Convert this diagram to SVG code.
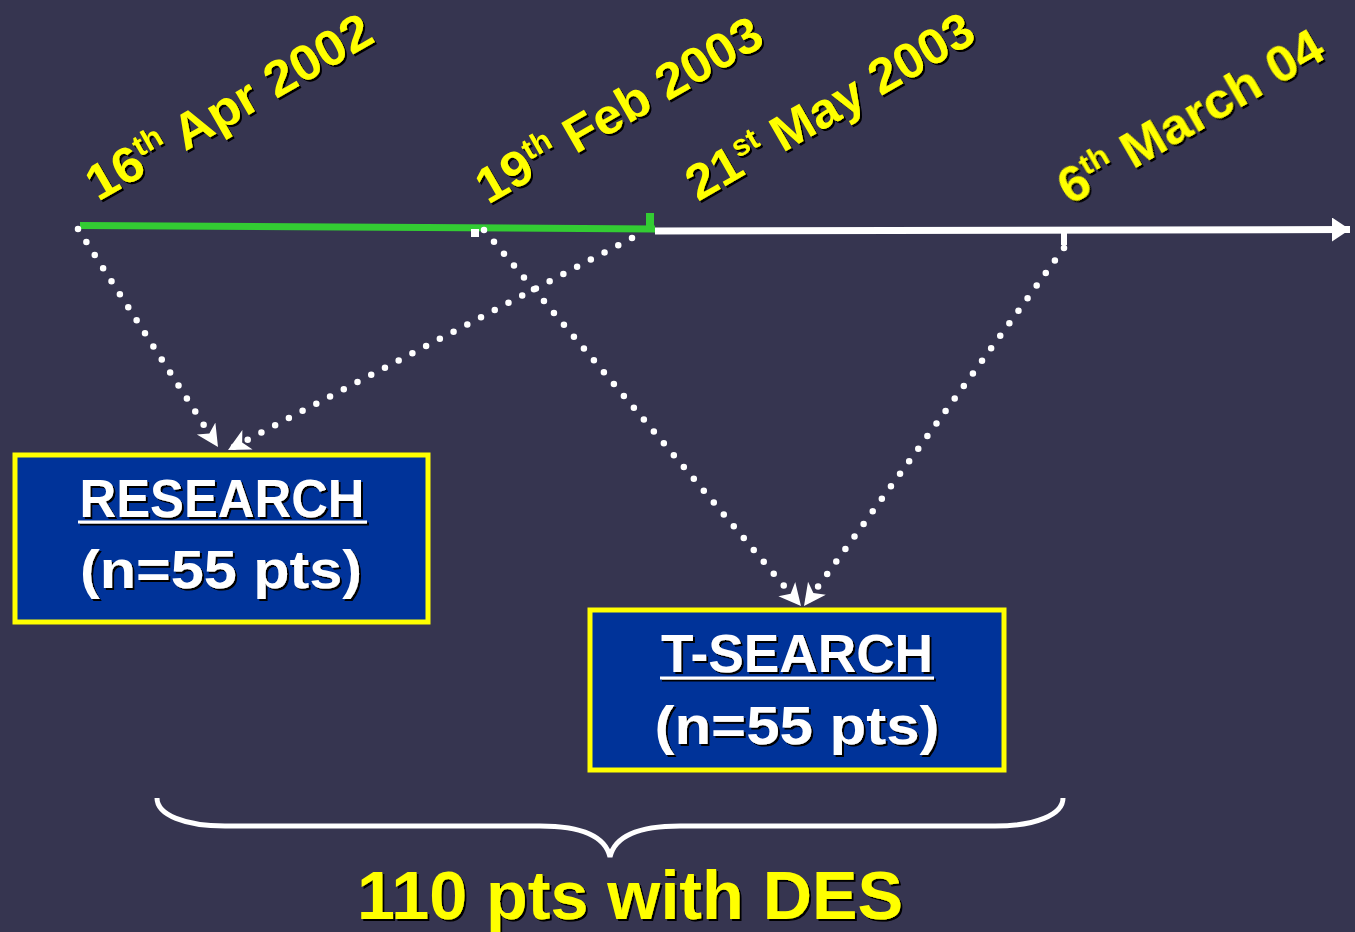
<svg xmlns="http://www.w3.org/2000/svg" width="1355" height="932" viewBox="0 0 1355 932">
<style>
.date{font-family:"Liberation Sans",Arial,sans-serif;font-weight:bold;font-size:50px;fill:#FFFF00}
.sup{font-size:30px}
.box{fill:#003399;stroke:#FFFF00;stroke-width:5}
.lbl{font-family:"Liberation Sans",Arial,sans-serif;font-weight:bold;fill:#FFFFFF;text-anchor:middle}
.dot{fill:none;stroke:#FFFFFF;stroke-width:6.5;stroke-linecap:round;stroke-dasharray:0 15.5}
.ul{stroke:#FFFFFF;stroke-width:3}
</style>
<defs>
<filter id="sh" x="-10%" y="-10%" width="130%" height="130%">
<feDropShadow dx="2" dy="2" stdDeviation="0.3" flood-color="#000000" flood-opacity="1"/>
</filter>
<marker id="ah" markerUnits="userSpaceOnUse" markerWidth="30" markerHeight="30" refX="22" refY="11" orient="auto">
<path d="M0,0 L22,11 L0,22 L6,11 Z" fill="#FFFFFF"/>
</marker>
<marker id="big" markerUnits="userSpaceOnUse" markerWidth="30" markerHeight="30" refX="18" refY="12" orient="auto">
<path d="M0,0 L18,12 L0,24 Z" fill="#FFFFFF"/>
</marker>
</defs>
<rect width="1355" height="932" fill="#363550"/>

<g id="timeline">
<line x1="80" y1="225.5" x2="655" y2="229" stroke="#33CC33" stroke-width="7"/>
<line x1="650" y1="213" x2="650" y2="229" stroke="#33CC33" stroke-width="8"/>
<line x1="655" y1="231" x2="1350" y2="229.5" stroke="#FFFFFF" stroke-width="7" marker-end="url(#big)"/>
<rect x="471" y="229" width="8" height="8" fill="#FFFFFF"/>
<line x1="1064" y1="232" x2="1064" y2="245" stroke="#FFFFFF" stroke-width="6"/>
</g>

<g id="dates" filter="url(#sh)">
<text class="date" transform="translate(98,202) rotate(-30)" textLength="322" lengthAdjust="spacingAndGlyphs">16<tspan class="sup" dy="-18">th</tspan><tspan dy="18"> Apr 2002</tspan></text>
<text class="date" transform="translate(488,205) rotate(-30)" textLength="322" lengthAdjust="spacingAndGlyphs">19<tspan class="sup" dy="-18">th</tspan><tspan dy="18"> Feb 2003</tspan></text>
<text class="date" transform="translate(698,202) rotate(-30)" textLength="324" lengthAdjust="spacingAndGlyphs">21<tspan class="sup" dy="-18">st</tspan><tspan dy="18"> May 2003</tspan></text>
<text class="date" transform="translate(1070,206) rotate(-30)" textLength="298" lengthAdjust="spacingAndGlyphs">6<tspan class="sup" dy="-18">th</tspan><tspan dy="18"> March 04</tspan></text>
</g>

<g id="connectors">
<line class="dot" x1="78" y1="229" x2="218" y2="447" marker-end="url(#ah)"/>
<line class="dot" x1="632" y1="238" x2="228" y2="450" marker-end="url(#ah)"/>
<line class="dot" x1="484" y1="230" x2="801" y2="606" marker-end="url(#ah)"/>
<line class="dot" x1="1064" y1="248" x2="804" y2="606" marker-end="url(#ah)"/>
</g>

<g id="research">
<rect class="box" x="15" y="455" width="413" height="167"/>
<g filter="url(#sh)">
<text class="lbl" x="222" y="517" font-size="54" textLength="285" lengthAdjust="spacingAndGlyphs">RESEARCH</text>
<line class="ul" x1="78" y1="522" x2="367" y2="522"/>
<text class="lbl" x="221" y="588" font-size="54" textLength="282" lengthAdjust="spacingAndGlyphs">(n=55 pts)</text>
</g>
</g>

<g id="tsearch">
<rect class="box" x="590" y="610" width="414" height="160"/>
<g filter="url(#sh)">
<text class="lbl" x="797" y="672" font-size="54" textLength="272" lengthAdjust="spacingAndGlyphs">T-SEARCH</text>
<line class="ul" x1="660" y1="678" x2="934" y2="678"/>
<text class="lbl" x="797" y="744" font-size="54" textLength="285" lengthAdjust="spacingAndGlyphs">(n=55 pts)</text>
</g>
</g>

<g id="brace">
<path d="M157,798 C157,815 185,826 225,826 L540,826 C580,826 605,835 610,857 C615,835 640,826 680,826 L995,826 C1035,826 1063,815 1063,798" fill="none" stroke="#FFFFFF" stroke-width="5"/>
<g filter="url(#sh)">
<text x="630" y="919" font-family="'Liberation Sans',Arial,sans-serif" font-weight="bold" font-size="68" fill="#FFFF00" text-anchor="middle" textLength="546" lengthAdjust="spacingAndGlyphs">110 pts with DES</text>
</g>
</g>
</svg>
